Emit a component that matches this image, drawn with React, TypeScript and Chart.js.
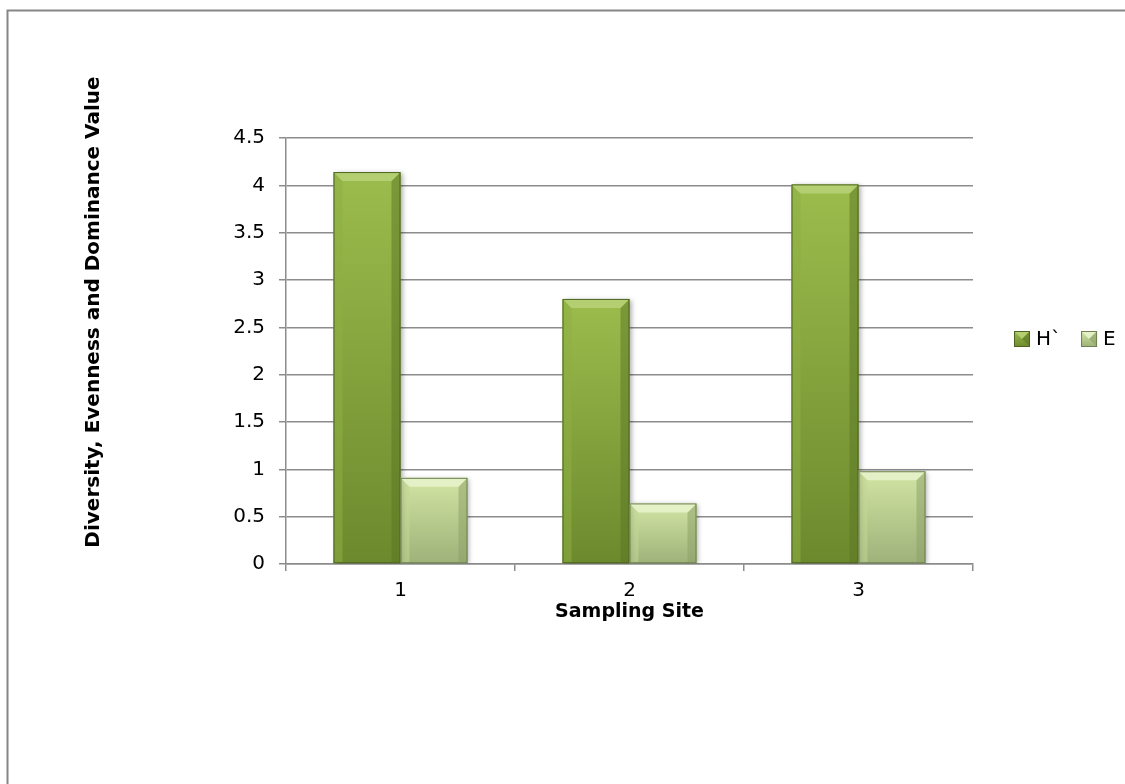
import React, { useEffect, useRef } from 'react';
import { Chart, registerables } from 'chart.js';

Chart.register(...registerables);

const categories = ['1', '2', '3'];
const seriesLabels = ['H`', 'E'];
const hValues = [4.14, 2.8, 4.01];
const eValues = [0.91, 0.64, 0.98];
const yTickValues = [0, 0.5, 1, 1.5, 2, 2.5, 3, 3.5, 4, 4.5];
const xAxisTitle = 'Sampling Site';
const yAxisTitle = 'Diversity, Evenness and Dominance Value';

const PALETTE = [
  { top: '#9cbc4d', bottom: '#6c8a2d', bevel: '#b4cf72', left: '#8eae43', right: '#5a7524', border: '#4d6520' },
  { top: '#d2e5a4', bottom: '#9db179', bevel: '#e4f0c6', left: '#c2d796', right: '#8a9e66', border: '#6f8250' },
];

const FONT = '"DejaVu Sans", sans-serif';

function barFill(c: any, idx: number) {
  const p = PALETTE[idx];
  const chart = c.chart;
  const y = chart.scales && chart.scales.y;
  if (c.type !== 'data' || !y || !isFinite(y.top)) return p.top;
  const top = y.getPixelForValue(c.raw);
  const base = y.getPixelForValue(0);
  if (!isFinite(top) || !isFinite(base) || top === base) return p.top;
  const g = chart.ctx.createLinearGradient(0, top, 0, base);
  g.addColorStop(0, p.top);
  g.addColorStop(1, p.bottom);
  return g;
}

const decorPlugin = {
  id: 'decor',
  beforeDatasetsDraw(chart: any) {
    const ctx = chart.ctx;
    ctx.shadowColor = 'rgba(0,0,0,0.35)';
    ctx.shadowBlur = 5;
    ctx.shadowOffsetX = 2;
    ctx.shadowOffsetY = 1;
  },
  afterDatasetsDraw(chart: any) {
    const ctx = chart.ctx;
    ctx.shadowColor = 'rgba(0,0,0,0)';
    ctx.shadowBlur = 0;
    ctx.shadowOffsetX = 0;
    ctx.shadowOffsetY = 0;
    chart.data.datasets.forEach((ds: any, di: number) => {
      const p = PALETTE[di];
      const meta = chart.getDatasetMeta(di);
      meta.data.forEach((bar: any) => {
        const { x, y, base, width } = bar.getProps(['x', 'y', 'base', 'width'], true);
        const l = x - width / 2;
        const r = x + width / 2;
        const b = Math.min(9, (base - y) / 2);
        ctx.save();
        ctx.fillStyle = p.left;
        ctx.globalAlpha = 0.55;
        ctx.beginPath();
        ctx.moveTo(l, y);
        ctx.lineTo(l + b, y + b);
        ctx.lineTo(l + b, base - 1);
        ctx.lineTo(l, base);
        ctx.closePath();
        ctx.fill();
        ctx.fillStyle = p.right;
        ctx.globalAlpha = 0.5;
        ctx.beginPath();
        ctx.moveTo(r, y);
        ctx.lineTo(r - b, y + b);
        ctx.lineTo(r - b, base - 1);
        ctx.lineTo(r, base);
        ctx.closePath();
        ctx.fill();
        ctx.globalAlpha = 1;
        ctx.fillStyle = p.bevel;
        ctx.beginPath();
        ctx.moveTo(l, y);
        ctx.lineTo(r, y);
        ctx.lineTo(r - b, y + b);
        ctx.lineTo(l + b, y + b);
        ctx.closePath();
        ctx.fill();
        ctx.strokeStyle = p.border;
        ctx.lineWidth = 1;
        ctx.strokeRect(l + 0.5, y + 0.5, width - 1, base - y - 1);
        ctx.restore();
      });
    });
  },
  afterDraw(chart: any) {
    const ctx = chart.ctx;
    const area = chart.chartArea;
    ctx.save();
    ctx.strokeStyle = '#868686';
    ctx.lineWidth = 2;
    ctx.beginPath();
    ctx.moveTo(7.5, 800);
    ctx.lineTo(7.5, 10.5);
    ctx.lineTo(1200, 10.5);
    ctx.stroke();

    ctx.fillStyle = '#000';
    ctx.font = `bold 19px ${FONT}`;
    ctx.textAlign = 'center';
    ctx.textBaseline = 'middle';
    ctx.fillText(xAxisTitle, (area.left + area.right) / 2, 612);

    ctx.save();
    ctx.translate(94, 312);
    ctx.rotate(-Math.PI / 2);
    ctx.font = `bold 17px ${FONT}`;
    const w = ctx.measureText(yAxisTitle).width;
    const size = Math.min(20, (17 * 483) / w);
    ctx.font = `bold ${size.toFixed(1)}px ${FONT}`;
    ctx.fillText(yAxisTitle, 0, 0);
    ctx.restore();

    ctx.font = `20px ${FONT}`;
    ctx.textAlign = 'left';
    ctx.textBaseline = 'middle';
    let lx = 1014;
    const ly = 339;
    chart.data.datasets.forEach((ds: any, di: number) => {
      const p = PALETTE[di];
      const g = ctx.createLinearGradient(0, ly - 8, 0, ly + 8);
      g.addColorStop(0, p.top);
      g.addColorStop(1, p.bottom);
      ctx.fillStyle = g;
      ctx.fillRect(lx, ly - 8, 16, 16);
      ctx.fillStyle = p.bevel;
      ctx.beginPath();
      ctx.moveTo(lx, ly - 8);
      ctx.lineTo(lx + 16, ly - 8);
      ctx.lineTo(lx + 8, ly);
      ctx.closePath();
      ctx.fill();
      ctx.fillStyle = p.right;
      ctx.globalAlpha = 0.6;
      ctx.beginPath();
      ctx.moveTo(lx + 16, ly - 8);
      ctx.lineTo(lx + 16, ly + 8);
      ctx.lineTo(lx + 8, ly);
      ctx.closePath();
      ctx.fill();
      ctx.globalAlpha = 1;
      ctx.strokeStyle = p.border;
      ctx.lineWidth = 1;
      ctx.strokeRect(lx + 0.5, ly - 7.5, 15, 15);
      ctx.fillStyle = '#000';
      ctx.fillText(ds.label, lx + 22, ly + 1);
      lx += 22 + ctx.measureText(ds.label).width + 20;
    });
    ctx.restore();
  },
};

export default function App() {
  const ref = useRef<HTMLCanvasElement | null>(null);

  useEffect(() => {
    if (!ref.current) return;
    const chart = new Chart(ref.current, {
      type: 'bar',
      data: {
        labels: categories,
        datasets: [
          {
            label: seriesLabels[0],
            data: hValues,
            backgroundColor: (c: any) => barFill(c, 0),
            borderWidth: 0,
            categoryPercentage: 0.585,
            barPercentage: 1,
          },
          {
            label: seriesLabels[1],
            data: eValues,
            backgroundColor: (c: any) => barFill(c, 1),
            borderWidth: 0,
            categoryPercentage: 0.585,
            barPercentage: 1,
          },
        ],
      },
      options: {
        responsive: false,
        animation: false,
        devicePixelRatio: 1,
        layout: { padding: { left: 0, top: 138, right: 152, bottom: 0 } },
        plugins: {
          legend: { display: false },
          title: { display: false },
          tooltip: { enabled: false },
        },
        scales: {
          x: {
            offset: true,
            grid: {
              display: true,
              drawOnChartArea: false,
              drawTicks: true,
              tickLength: 7,
              offset: true,
              color: '#8c8c8c',
              lineWidth: 1.5,
            },
            border: { display: true, color: '#8c8c8c', width: 1.5 },
            ticks: {
              color: '#000',
              font: { family: FONT, size: 20 },
              padding: 8,
            },
            afterFit: (s: any) => {
              s.height = 784 - 564;
            },
          },
          y: {
            min: 0,
            max: 4.5,
            afterBuildTicks: (s: any) => {
              s.ticks = yTickValues.map((v) => ({ value: v }));
            },
            grid: {
              color: '#8c8c8c',
              lineWidth: 1.5,
              drawTicks: true,
              tickLength: 7,
            },
            border: { display: true, color: '#8c8c8c', width: 1.5 },
            ticks: {
              color: '#000',
              font: { family: FONT, size: 20 },
              padding: 14,
              callback: (v: any) => String(v),
            },
            afterFit: (s: any) => {
              s.width = 286;
            },
          },
        },
      },
      plugins: [decorPlugin],
    });
    return () => chart.destroy();
  }, []);

  return (
    <div style={{ position: 'absolute', left: 0, top: 0, width: 1125, height: 784, background: '#fff', overflow: 'hidden' }}>
      <canvas ref={ref} width={1125} height={784} style={{ width: 1125, height: 784, display: 'block' }} />
    </div>
  );
}
